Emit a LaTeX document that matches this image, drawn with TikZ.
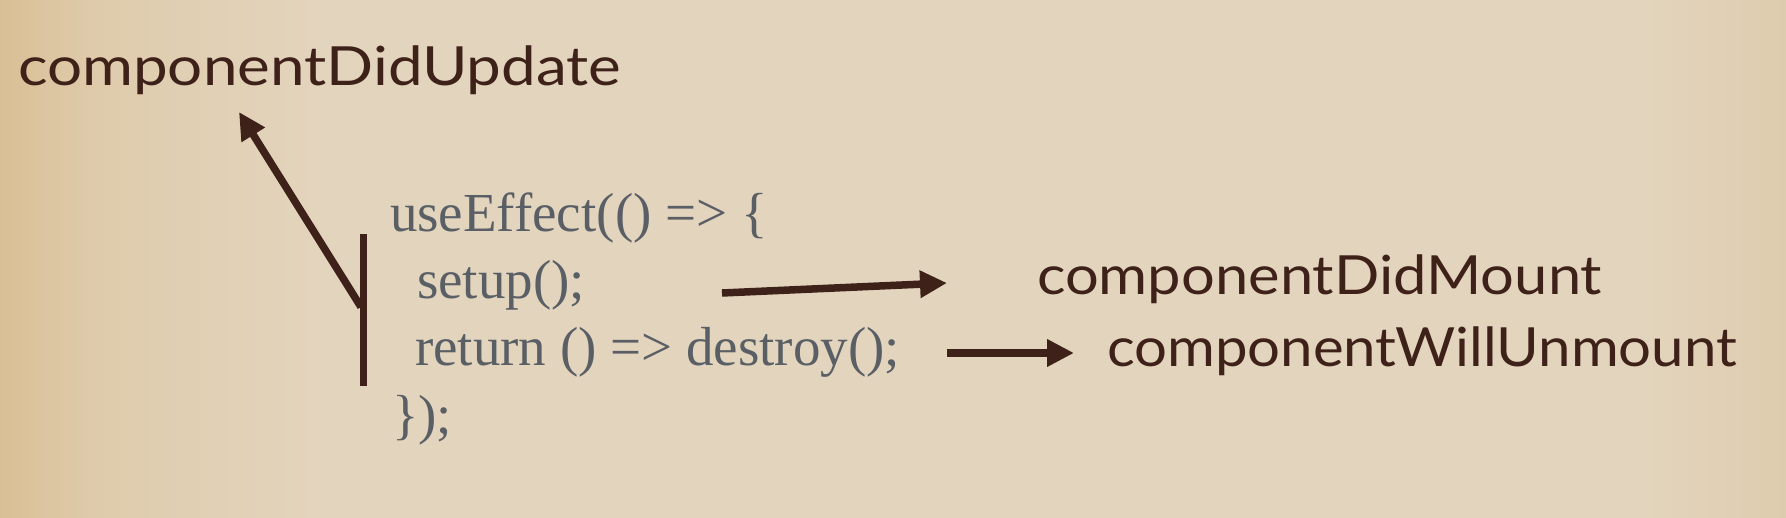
\documentclass[tikz,border=0pt]{standalone}
\usepackage{fontspec}
\usepackage{graphicx}
\setmainfont{Liberation Serif}
\newfontfamily\labelfont{Lato}
\usetikzlibrary{arrows.meta}
\definecolor{paperL}{RGB}{217,191,150}
\definecolor{paperLM}{RGB}{223,204,173}
\definecolor{paperM}{RGB}{227,212,189}
\definecolor{paperR}{RGB}{222,204,174}
\definecolor{ink}{RGB}{62,33,25}
\definecolor{codegray}{RGB}{90,95,101}
\pgfdeclarehorizontalshading{paper}{100bp}{color(0bp)=(paperL); color(25bp)=(paperL); color(28bp)=(paperLM); color(34bp)=(paperM); color(71bp)=(paperM); color(75bp)=(paperR); color(100bp)=(paperR)}
\tikzset{
  lbl/.style={anchor=base west, inner sep=0pt, outer sep=0pt, text=ink, font=\labelfont\fontsize{54}{60}\selectfont},
  code/.style={anchor=base west, inner sep=0pt, outer sep=0pt, text=codegray, font=\fontsize{55}{66}\selectfont},
  conn/.style={draw=ink, line width=7.5pt, -{Triangle[length=27pt,width=26pt]}},
  bar/.style={draw=ink, line width=7pt},
}
\begin{document}
\begin{tikzpicture}[x=1pt,y=-1pt]
\shade[shading=paper] (0,0) rectangle (1786,518);
\useasboundingbox (0,0) rectangle (1786,518);
% labels
\node[lbl] (upd) at (18,86) {\resizebox{603pt}{\height}{componentDidUpdate}};
\node[lbl] (mnt) at (1037,295) {\resizebox{565pt}{\height}{componentDidMount}};
\node[lbl] (unm) at (1107,367) {\resizebox{630pt}{\height}{componentWillUnmount}};
% code
\node[code] (c1) at (390,232) {useEffect(() => \{};
\node[code] (c2) at (417,299) {setup();};
\node[code] (c3) at (415,366) {return () => destroy();};
\node[code] (c4) at (392,433) {\});};
% bracket bar
\coordinate (bt) at (363,234);
\coordinate (bb) at (363,386);
\draw[bar] (bt) -- (bb);
% connectors
\coordinate (j) at (361,307);
\coordinate (t1) at (239,112);
\draw[conn] (j) -- (t1);
\coordinate (s2) at (722,293);
\coordinate (t2) at (947,283);
\draw[conn] (s2) -- (t2);
\coordinate (s3) at (947,353);
\coordinate (t3) at (1074,353);
\draw[conn] (s3) -- (t3);
\end{tikzpicture}
\end{document}
